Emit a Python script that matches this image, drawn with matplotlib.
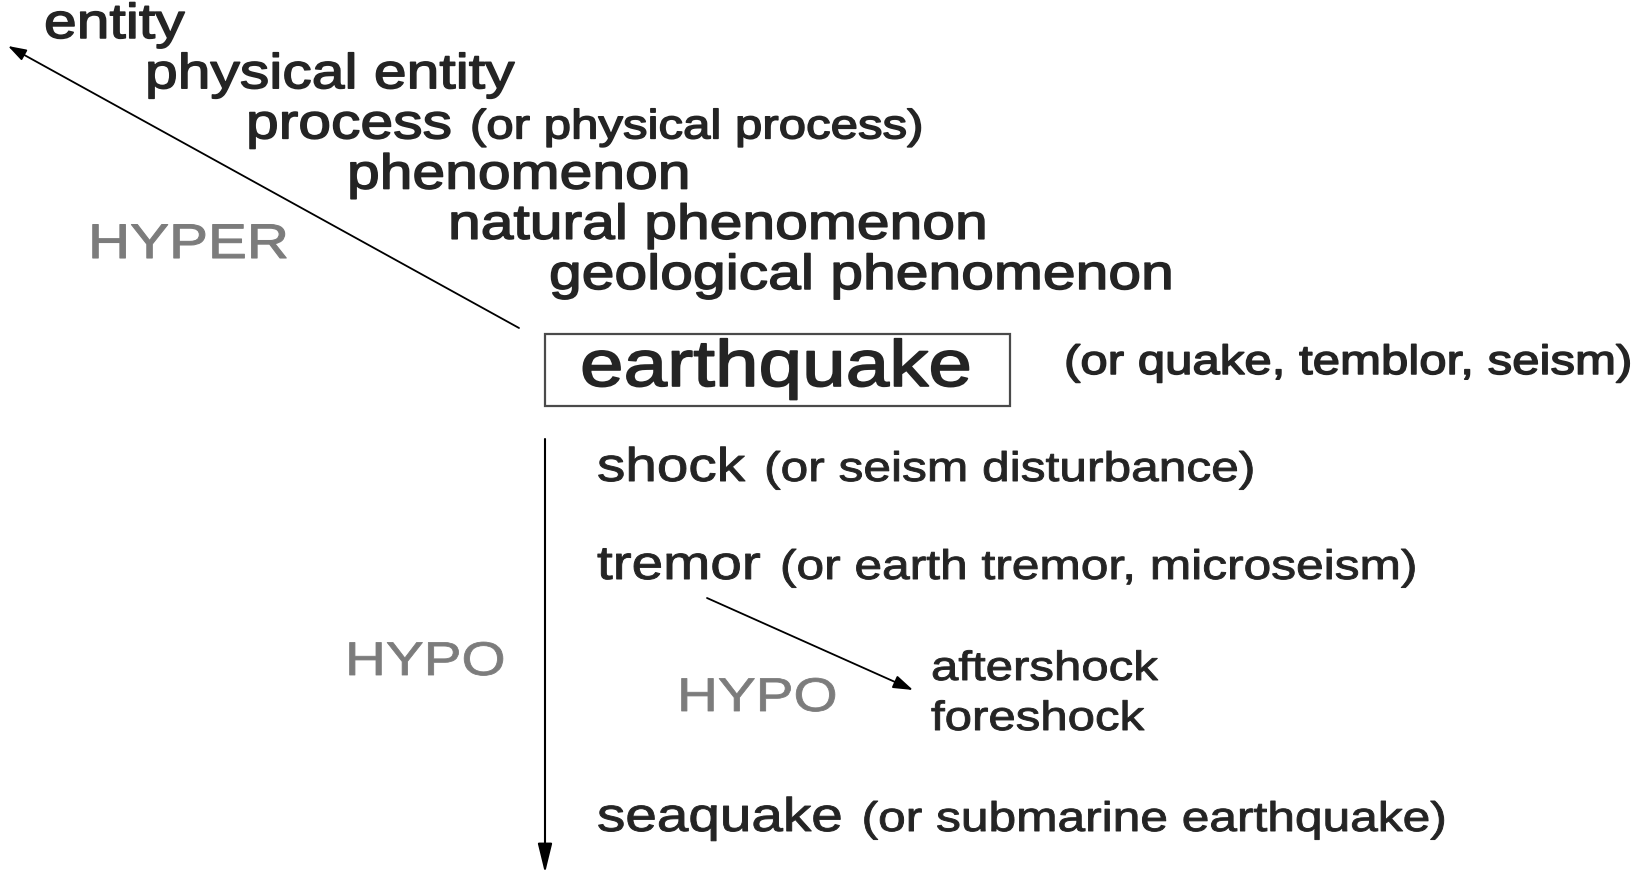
import matplotlib
matplotlib.use("Agg")
import matplotlib.pyplot as plt
from matplotlib.patches import Rectangle
from matplotlib.patheffects import AbstractPathEffect
from matplotlib.transforms import Affine2D

# ---------------- data ----------------
hyper_terms = ["entity", "physical entity", "process", "phenomenon",
               "natural phenomenon", "geological phenomenon"]
hyper_synonyms = ["", "", "(or physical process)", "", "", ""]
focus_term = "earthquake"
focus_synonyms = "(or quake, temblor, seism)"
hypo_terms = ["shock", "tremor", "seaquake"]
hypo_synonyms = ["(or seism disturbance)", "(or earth tremor, microseism)",
                 "(or submarine earthquake)"]
tremor_hyponyms = ["aftershock", "foreshock"]
relation_labels = ["HYPER", "HYPO", "HYPO"]

# ---------------- style ----------------
W, H = 1650, 876
FONT = "Liberation Sans"
TXT = "#242424"
GRAY = "#7c7c7c"
STRETCH = 1.2


class HStretch(AbstractPathEffect):
    """Stretch glyphs horizontally about the text anchor, with a slight
    outline of the same colour to mimic the heavier original strokes."""

    def __init__(self, sx, stroke=0.0):
        super().__init__()
        self.sx = sx
        self.stroke = stroke

    def draw_path(self, renderer, gc, tpath, affine, rgbFace=None):
        m = affine.get_matrix()
        tx, ty = m[0, 2], m[1, 2]
        st = Affine2D().translate(-tx, -ty).scale(self.sx, 1).translate(tx, ty)
        gc0 = renderer.new_gc()
        gc0.copy_properties(gc)
        if self.stroke > 0 and rgbFace is not None:
            gc0.set_linewidth(self.stroke)
            gc0.set_foreground(rgbFace)
            gc0.set_joinstyle("round")
        renderer.draw_path(gc0, tpath, affine + st, rgbFace)
        gc0.restore()


fig = plt.figure(figsize=(W / 100, H / 100), dpi=100)
ax = fig.add_axes([0, 0, 1, 1])
ax.set_xlim(0, W)
ax.set_ylim(H, 0)
ax.axis("off")
renderer = fig.canvas.get_renderer()


def put(x, y, s, size, color=TXT, stroke=0.9):
    t = ax.text(x, y, s, fontsize=size, family=FONT, color=color,
                ha="left", va="baseline",
                path_effects=[HStretch(STRETCH, stroke)])
    return t


def text_width(t):
    bb = t.get_window_extent(renderer=renderer)
    return bb.width * STRETCH


def put_pair(x, y, main, syn, size_main, size_syn, gap=18, stroke=0.9):
    t = put(x, y, main, size_main, stroke=stroke)
    if syn:
        put(x + text_width(t) + gap, y, syn, size_syn, stroke=stroke)


# ---------------- hypernym staircase ----------------
for i, (term, syn) in enumerate(zip(hyper_terms, hyper_synonyms)):
    put_pair(44 + 101 * i, 38 + 50.2 * i, term, syn, 35.3, 29.5, stroke=1.1)

# HYPER label and arrow
put(88, 258, relation_labels[0], 35, GRAY, stroke=0.8)
ax.annotate("", xy=(8, 46), xytext=(519, 328),
            arrowprops=dict(arrowstyle="-|>,head_length=0.55,head_width=0.18",
                            mutation_scale=20, lw=1.3, color="black",
                            shrinkA=0, shrinkB=0))

# ---------------- focus synset ----------------
ax.add_patch(Rectangle((545, 334), 465, 72, fill=False, ec="#4a4a4a", lw=1.6))
put(580, 386, focus_term, 47, stroke=1.2)
put(1064, 374, focus_synonyms, 29.5, stroke=1.1)

# ---------------- hyponyms ----------------
ax.annotate("", xy=(545, 873), xytext=(545, 439),
            arrowprops=dict(arrowstyle="-|>,head_length=0.9,head_width=0.22",
                            mutation_scale=20, lw=1.5, color="black",
                            shrinkA=0, shrinkB=0))
put(345, 675, relation_labels[1], 34, GRAY, stroke=0.6)

hypo_baselines = [481, 579, 831]
for term, syn, yb in zip(hypo_terms, hypo_synonyms, hypo_baselines):
    put_pair(597, yb, term, syn, 34, 29.8, gap=19, stroke=0.7)

# tremor's hyponyms
ax.annotate("", xy=(913, 690), xytext=(707, 598),
            arrowprops=dict(arrowstyle="-|>,head_length=0.6,head_width=0.2",
                            mutation_scale=20, lw=1.3, color="black",
                            shrinkA=0, shrinkB=0))
put(677, 711, relation_labels[2], 34, GRAY, stroke=0.6)
for j, term in enumerate(tremor_hyponyms):
    put(931, 680 + 50 * j, term, 29.5, stroke=0.7)

fig.savefig("out.png", dpi=100, facecolor="white")
